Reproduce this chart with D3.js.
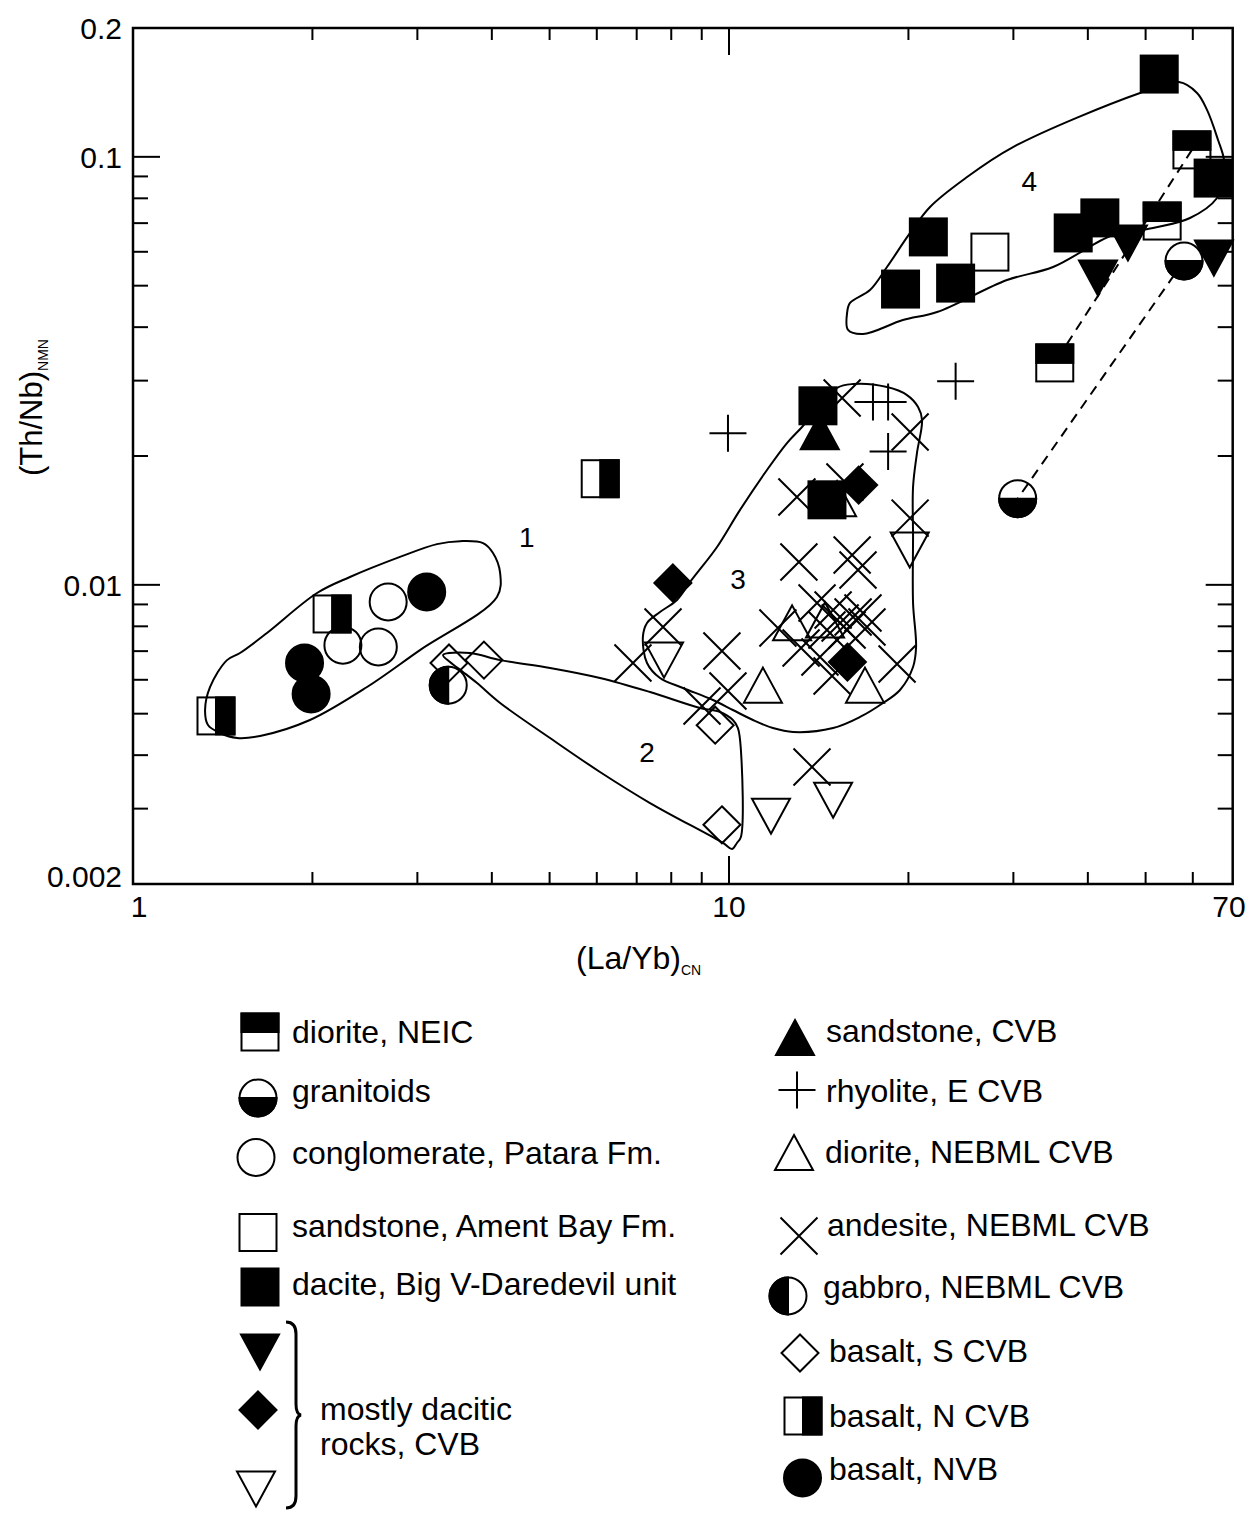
<!DOCTYPE html>
<html><head><meta charset="utf-8">
<script src="https://cdn.jsdelivr.net/npm/d3@7"></script>
<style>
html,body{margin:0;padding:0;background:#fff;}
svg{display:block;font-family:"Liberation Sans",Arial,Helvetica,sans-serif;}
</style></head><body>
<svg id="chart" width="1250" height="1513"></svg>
<script>
// ---- Samples: [(La/Yb)CN, (Th/Nb)NMN] ----
const dioriteNEIC = [[59.8, 0.1038], [53.3, 0.0708], [35.2, 0.0330]];
const granitoids = [[58.0, 0.0571], [30.5, 0.0159]];
const conglomeratePatara = [[2.68, 0.00912], [2.25, 0.00723], [2.58, 0.00716]];
const sandstoneAmentBay = [[27.4, 0.0599]];
const daciteBigV = [[14.1, 0.0262], [14.6, 0.0158], [21.6, 0.0650], [19.4, 0.0491], [24.0, 0.0507],
                    [37.8, 0.0664], [41.9, 0.0720], [52.7, 0.1561], [64.9, 0.0892]];
const daciticTriDown = [[41.6, 0.0521], [46.7, 0.0629], [65.1, 0.0580]];
const daciticDiamond = [[8.05, 0.0101], [16.5, 0.0171], [15.8, 0.0066]];
const daciticTriDownOpen = [[7.78, 0.00667], [20.1, 0.01206], [11.76, 0.00288], [14.95, 0.00314]];
const sandstoneCVB = [[14.2, 0.0228]];
const rhyoliteECVB = [[9.96, 0.0226], [17.44, 0.02675], [18.49, 0.02675], [18.49, 0.0205], [24.0, 0.0299]];
const dioriteNEBML = [[15.18, 0.0159], [12.76, 0.00815], [14.49, 0.00828], [11.4, 0.00583], [16.91, 0.00583]];
const andesiteNEBML = [[15.48, 0.02732], [20.13, 0.02276], [13.0, 0.01604], [20.13, 0.01432], [13.1, 0.01131],
                       [16.09, 0.01174], [16.46, 0.01083], [6.90, 0.006568], [7.75, 0.007972], [9.73, 0.007004],
                       [12.08, 0.007928], [13.21, 0.007118], [14.89, 0.006124], [19.14, 0.006532], [9.96, 0.00565],
                       [9.01, 0.00521], [13.78, 0.003754], [15.65, 0.01739], [14.05, 0.009068], [14.95, 0.008736],
                       [15.36, 0.008146], [16.15, 0.00841], [16.78, 0.008594], [15.78, 0.007844], [14.60, 0.007844],
                       [14.21, 0.006784], [17.04, 0.007972]];
const gabbroNEBML = [[3.38, 0.00583]];
const basaltSCVB = [[3.39, 0.00657], [3.88, 0.00667], [9.48, 0.00470], [9.73, 0.00275]];
const basaltNCVB = [[1.378, 0.00494], [2.158, 0.00855], [6.08, 0.0177]];
const basaltNVB = [[3.11, 0.00962], [1.94, 0.00657], [1.99, 0.00556]];

// paired samples joined by dashed tie lines
const tieLines = [
  [[59.8, 0.1038], [35.2, 0.0330]],
  [[58.0, 0.0571], [30.5, 0.0159]]
];

// ---- Outlined fields 1-4 ----
const field1 = [[1.321,0.0051],[1.336,0.004704],[1.40,0.004506],[1.495,0.004386],[1.634,0.004434],[1.981,0.004832],
  [2.47,0.005772],[3.03,0.00704],[4.08,0.009368],[4.13,0.01066],[4.018,0.01187],[3.866,0.01252],[3.538,0.01265],
  [3.236,0.01245],[2.805,0.01162],[2.312,0.01043],[2.036,0.00957],[1.678,0.007718],[1.512,0.00693],[1.438,0.00667],
  [1.347,0.005772]];
const field2 = [[3.313,0.006856],[3.677,0.00693],[4.13,0.00667],[5.009,0.006394],[6.075,0.006058],[7.37,0.005618],
  [8.94,0.005156],[9.66,0.005046],[10.15,0.004832],[10.35,0.004628],[10.47,0.004112],[10.47,0.002576],[10.31,0.002494],
  [10.12,0.002414],[9.77,0.002494],[7.37,0.003092],[6.075,0.003654],[5.009,0.004386],[4.13,0.005296],[3.778,0.005896],
  [3.578,0.006258],[3.403,0.0066]];
const field3 = [[8.84,0.01066],[9.548,0.01226],[10.43,0.01495],[11.58,0.01855],[12.51,0.02144],[13.26,0.02338],
  [15.18,0.02884],[16.15,0.02946],[18.41,0.02898],[19.89,0.02776],[20.76,0.02604],[21.08,0.02428],[20.67,0.02032],
  [20.36,0.01693],[20.36,0.01293],[20.36,0.009068],[20.6,0.007156],[20.36,0.006428],[19.36,0.00568],[18.13,0.005296],
  [16.59,0.004912],[14.95,0.004628],[12.81,0.00453],[11.85,0.004628],[10.97,0.004832],[10.15,0.0051],[9.40,0.005382],
  [8.37,0.005742],[7.66,0.006058],[7.285,0.006568],[7.17,0.007556],[7.285,0.008146],[7.66,0.00864],[8.18,0.009218],
  [8.60,0.01015]];
const field4 = [[15.78,0.04316],[15.96,0.04556],[17.24,0.04884],[18.41,0.05528],[20.13,0.0664],[21.74,0.07636],
  [24.7,0.0883],[29.96,0.1054],[48.94,0.141],[56.89,0.1495],[60.99,0.141],[63.39,0.1287],[66.15,0.1095],[67.69,0.0983],
  [67.43,0.0883],[65.89,0.08014],[59.35,0.07196],[51.45,0.06818],[44.09,0.06566],[34.97,0.05528],[29.27,0.05154],
  [22.34,0.0434],[19.58,0.04156],[16.78,0.03855],[15.84,0.0394]];
const fieldLabels = [["1", 4.58, 0.01293], ["2", 7.285, 0.004068], ["3", 10.35, 0.01032], ["4", 31.9, 0.0878]];

// ---- Axes ----
const xMinorTicks = [2, 3, 4, 5, 6, 7, 8, 9, 20, 30, 40, 50, 60];
const xMajorTicks = [10];
const xTickLabels = [[1, "1"], [10, "10"], [70, "70"]];
const yMinorTicks = [0.003, 0.004, 0.005, 0.006, 0.007, 0.008, 0.009, 0.02, 0.03, 0.04, 0.05, 0.06, 0.07, 0.08, 0.09];
const yMajorTicks = [0.01, 0.1];
const yTickLabels = [[0.2, "0.2"], [0.1, "0.1"], [0.01, "0.01"], [0.002, "0.002"]];

// ---- Legend ----
const legendLeft = [
  ["sqTopHalf", "diorite, NEIC"],
  ["circBottomHalf", "granitoids"],
  ["circOpen", "conglomerate, Patara Fm."],
  ["sqOpen", "sandstone, Ament Bay Fm."],
  ["sqFilled", "dacite, Big V-Daredevil unit"]
];
const legendBracket = ["triDownFilled", "diamondFilled", "triDownOpen"];
const legendBracketText = ["mostly dacitic", "rocks, CVB"];
const legendRight = [
  ["triUpFilled", "sandstone, CVB"],
  ["plus", "rhyolite, E CVB"],
  ["triUpOpen", "diorite, NEBML CVB"],
  ["cross", "andesite, NEBML CVB"],
  ["circLeftHalf", "gabbro, NEBML CVB"],
  ["diamondOpen", "basalt, S CVB"],
  ["sqRightHalf", "basalt, N CVB"],
  ["circFilled", "basalt, NVB"]
];

// ================= drawing =================
const svg = d3.select("#chart");
const x = d3.scaleLog().domain([1, 70]).range([133, 1232.7]);
const y = d3.scaleLog().domain([0.002, 0.2]).range([884, 28]);
const [x0, x1] = x.range();
const [y0, y1] = y.range();

// marker glyphs, drawn around (0,0)
const R = 18.5;
function marker(parent, type, cx, cy) {
  const g = parent.append("g").attr("transform", `translate(${cx},${cy})`)
    .attr("stroke", "#000").attr("stroke-width", 2).attr("fill", "none");
  const sq = (fill) => g.append("rect").attr("x", -R).attr("y", -R).attr("width", 2 * R).attr("height", 2 * R).attr("fill", fill);
  const circ = (fill) => g.append("circle").attr("r", R).attr("fill", fill);
  const tw = 19, th = 17.5;
  switch (type) {
    case "sqOpen": sq("none"); break;
    case "sqFilled": sq("#000"); break;
    case "sqTopHalf":
      g.append("rect").attr("x", -R).attr("y", -R).attr("width", 2 * R).attr("height", R).attr("fill", "#000");
      sq("none"); break;
    case "sqRightHalf":
      g.append("rect").attr("x", 0).attr("y", -R).attr("width", R).attr("height", 2 * R).attr("fill", "#000");
      sq("none"); break;
    case "circOpen": circ("none"); break;
    case "circFilled": circ("#000"); break;
    case "circBottomHalf":
      g.append("path").attr("d", `M${-R},0A${R},${R} 0 0 0 ${R},0Z`).attr("fill", "#000");
      circ("none"); break;
    case "circLeftHalf":
      g.append("path").attr("d", `M0,${-R}A${R},${R} 0 0 0 0,${R}Z`).attr("fill", "#000");
      circ("none"); break;
    case "triUpFilled":
    case "triUpOpen":
      g.append("path").attr("d", `M0,${-th}L${tw},${th}L${-tw},${th}Z`)
        .attr("fill", type === "triUpFilled" ? "#000" : "none"); break;
    case "triDownFilled":
    case "triDownOpen":
      g.append("path").attr("d", `M0,${th}L${tw},${-th}L${-tw},${-th}Z`)
        .attr("fill", type === "triDownFilled" ? "#000" : "none"); break;
    case "diamondFilled":
    case "diamondOpen":
      g.append("path").attr("d", `M0,${-R}L${R},0L0,${R}L${-R},0Z`)
        .attr("fill", type === "diamondFilled" ? "#000" : "none"); break;
    case "cross":
      g.append("path").attr("d", `M${-R},${-R}L${R},${R}M${R},${-R}L${-R},${R}`); break;
    case "plus":
      g.append("path").attr("d", `M${-R},0L${R},0M0,${-R}L0,${R}`); break;
  }
  return g;
}

// fields
const fieldLine = d3.line().x(d => x(d[0])).y(d => y(d[1])).curve(d3.curveCatmullRomClosed.alpha(0.5));
const gFields = svg.append("g").attr("fill", "none").attr("stroke", "#000").attr("stroke-width", 2);
[field1, field2, field3, field4].forEach(f => gFields.append("path").attr("d", fieldLine(f)));
svg.append("g").selectAll("text").data(fieldLabels).join("text")
  .attr("x", d => x(d[1])).attr("y", d => y(d[2]) + 10)
  .attr("text-anchor", "middle").attr("font-size", 28).text(d => d[0]);

// tie lines
const straight = d3.line().x(d => x(d[0])).y(d => y(d[1]));
svg.append("g").selectAll("path").data(tieLines).join("path")
  .attr("d", straight).attr("fill", "none").attr("stroke", "#000")
  .attr("stroke-width", 2).attr("stroke-dasharray", "10,7");

// samples
const gPts = svg.append("g");
const series = [
  [andesiteNEBML, "cross"], [rhyoliteECVB, "plus"], [dioriteNEBML, "triUpOpen"],
  [daciticTriDownOpen, "triDownOpen"], [basaltSCVB, "diamondOpen"], [sandstoneCVB, "triUpFilled"],
  [daciticDiamond, "diamondFilled"], [daciticTriDown, "triDownFilled"], [conglomeratePatara, "circOpen"],
  [basaltNVB, "circFilled"], [gabbroNEBML, "circLeftHalf"], [basaltNCVB, "sqRightHalf"],
  [sandstoneAmentBay, "sqOpen"], [daciteBigV, "sqFilled"], [dioriteNEIC, "sqTopHalf"], [granitoids, "circBottomHalf"]
];
series.forEach(([pts, type]) => pts.forEach(p => marker(gPts, type, x(p[0]), y(p[1]))));

// frame and ticks
const gAx = svg.append("g").attr("stroke", "#000");
gAx.append("rect").attr("x", x0).attr("y", y1).attr("width", x1 - x0).attr("height", y0 - y1)
  .attr("fill", "none").attr("stroke-width", 2.5);
const tick = (x1_, y1_, x2_, y2_) => gAx.append("line").attr("x1", x1_).attr("y1", y1_)
  .attr("x2", x2_).attr("y2", y2_).attr("stroke-width", 2);
xMinorTicks.forEach(v => { tick(x(v), y1, x(v), y1 + 12); tick(x(v), y0, x(v), y0 - 12); });
xMajorTicks.forEach(v => { tick(x(v), y1, x(v), y1 + 27); tick(x(v), y0, x(v), y0 - 28); });
yMinorTicks.forEach(v => { tick(x0, y(v), x0 + 15, y(v)); tick(x1, y(v), x1 - 15, y(v)); });
yMajorTicks.forEach(v => { tick(x0, y(v), x0 + 27, y(v)); tick(x1, y(v), x1 - 27, y(v)); });

const gLab = svg.append("g").attr("font-size", 30).attr("fill", "#000");
gLab.selectAll(".yl").data(yTickLabels).join("text").attr("class", "yl")
  .attr("x", x0 - 11).attr("y", d => Math.min(Math.max(y(d[0]) + 11, 36), 887))
  .attr("text-anchor", "end").text(d => d[1]);
gLab.selectAll(".xl").data(xTickLabels).join("text").attr("class", "xl")
  .attr("x", d => Math.min(Math.max(x(d[0]), 139), 1229)).attr("y", 917)
  .attr("text-anchor", "middle").text(d => d[1]);

// axis titles
const xt = svg.append("text").attr("x", 576).attr("y", 969).attr("font-size", 32);
xt.append("tspan").text("(La/Yb)");
xt.append("tspan").attr("font-size", 14).attr("dy", 6).text("CN");
const yt = svg.append("text").attr("transform", "translate(42,476) rotate(-90)").attr("font-size", 31);
yt.append("tspan").text("(Th/Nb)");
yt.append("tspan").attr("font-size", 14).attr("dy", 6).text("NMN");

// legend
const gLeg = svg.append("g").attr("font-size", 32);
const leftRows = [[260, 1032, 1043], [258, 1098, 1102], [256, 1157.5, 1164], [258, 1232.5, 1237], [260, 1287, 1295]];
legendLeft.forEach((d, i) => {
  const [sx, sy, ty] = leftRows[i];
  marker(gLeg, d[0], sx, sy);
  gLeg.append("text").attr("x", 292).attr("y", ty).text(d[1]);
});
const bracketRows = [[260, 1352], [258, 1410], [256, 1489]];
legendBracket.forEach((t, i) => marker(gLeg, t, bracketRows[i][0], bracketRows[i][1]));
gLeg.append("path")
  .attr("d", "M286,1322 Q296,1322 296,1334 L296,1404 Q296,1414 301,1415 Q296,1416 296,1426 L296,1496 Q296,1508 286,1508")
  .attr("fill", "none").attr("stroke", "#000").attr("stroke-width", 3);
legendBracketText.forEach((t, i) => gLeg.append("text").attr("x", 320).attr("y", 1420 + i * 35).text(t));
const rightRows = [[795, 1037.5, 826, 1042], [797, 1090, 826, 1102], [794, 1152.5, 825, 1162.5],
  [799, 1236, 827, 1236], [788, 1296, 823, 1298], [800, 1353, 829, 1361.5], [803, 1416, 829, 1427], [802.5, 1478, 829, 1480]];
legendRight.forEach((d, i) => {
  const [sx, sy, tx, ty] = rightRows[i];
  marker(gLeg, d[0], sx, sy);
  gLeg.append("text").attr("x", tx).attr("y", ty).text(d[1]);
});
</script>
</body></html>
